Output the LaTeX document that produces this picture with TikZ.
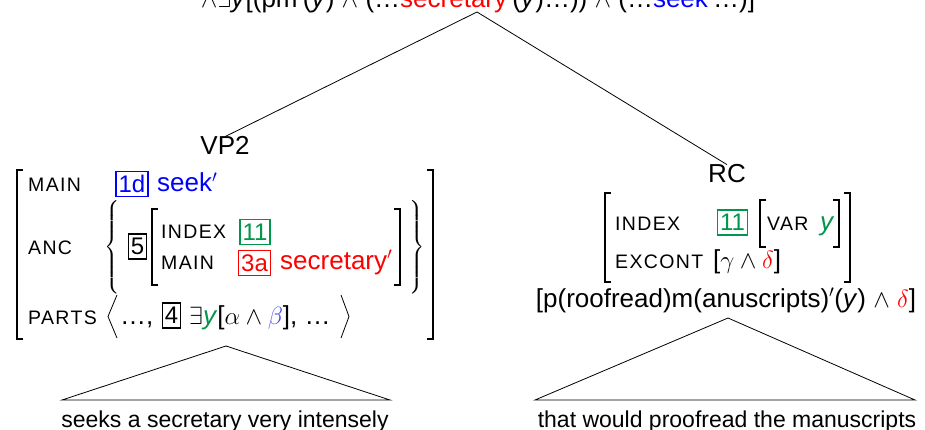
\documentclass[tikz,border=0pt]{standalone}
\usepackage{exscale}
\usepackage{fontspec}
\setmainfont{Liberation Sans}

\definecolor{idxgreen}{RGB}{0,150,75}
\definecolor{lightblue}{RGB}{70,70,245}

\tikzset{
  txt/.style={inner sep=0pt, font=\fontsize{26}{28}\selectfont},
  yield/.style={inner sep=0pt, anchor=base, font=\fontsize{23}{25}\selectfont},
  feat/.style={inner sep=0pt, anchor=base west,
    font=\fontsize{19.5}{20}\selectfont\addfontfeature{LetterSpace=7}},
  tag/.style={draw, line width=1.6pt, inner xsep=2.5pt, inner ysep=0pt,
    minimum height=25pt, font=\fontsize{24}{24}\selectfont},
  brk/.style={line width=1.1pt},
  delim/.style={inner sep=0pt, font=\fontsize{16}{16}\selectfont},
}

% tall curly brace of a given height
\newcommand{\lbr}[1]{$\delimitershortfall=0pt\left\{\vcenter{\hbox{\rule{0pt}{#1}}}\right.$}
\newcommand{\rbr}[1]{$\delimitershortfall=0pt\left.\vcenter{\hbox{\rule{0pt}{#1}}}\right\}$}

\begin{document}
\begin{tikzpicture}[x=1pt,y=-1pt]
\useasboundingbox (0,0) rectangle (925,430);

\node[txt, anchor=base] (sem) at (478,8)
  {$\wedge\exists$\textit{y}[(pm$'$(\textit{y}) $\wedge$ (\ldots\textcolor{red}{secretary}$'$(\textit{y})\ldots)) $\wedge$ (\ldots\textcolor{blue}{seek}$'$\ldots)]};

\coordinate (top) at (477,12);
\node[txt, anchor=base] (vp) at (225,155) {VP2};
\node[txt, anchor=base] (rc) at (727,183) {RC};
\draw[line width=0.8pt] (top) -- (vp.north);
\draw[line width=0.8pt] (top) -- (rc.north);

% VP2 feature structure
\draw[brk] (23,170) -- (17,170) -- (17,339) -- (23,339);
\draw[brk] (427,170) -- (433,170) -- (433,339) -- (427,339);

\node[feat] (main) at (28,192) {MAIN};
\node[tag, blue] (t1d) at (132,184) {1d};
\node[txt, anchor=base west, blue] (seek) at (157,192) {seek$'$};

\node[feat] (anc) at (28,254) {ANC};
\node[delim] (lbrace) at (113,247) {\lbr{91pt}};
\node[tag] (t5) at (137.5,246.5) {5};
\draw[brk] (158,209) -- (152,209) -- (152,285) -- (158,285);
\draw[brk] (394,209) -- (400,209) -- (400,285) -- (394,285);
\node[feat] (index) at (161,238) {INDEX};
\node[tag, idxgreen] (t11) at (255,232) {11};
\node[feat] (main2) at (161,269) {MAIN};
\node[tag, red] (t3a) at (254.5,263) {3a};
\node[txt, anchor=base west, red] (sec) at (280,269) {secretary$'$};
\node[delim] (rbrace) at (417,247) {\rbr{91pt}};

\node[feat] (parts) at (28,324) {PARTS};
\draw[line width=0.8pt] (117,295) -- (108,316.5) -- (117,338);
\node[txt, anchor=base west] (dl) at (120,324) {\ldots,};
\node[tag] (t4) at (171.5,315.5) {4};
\node[txt, anchor=base west] (ex) at (189,324)
  {$\exists$\textcolor{idxgreen}{\textit{y}}[$\alpha\wedge\textcolor{lightblue}{\beta}$], \ldots};
\draw[line width=0.8pt] (341,295) -- (349,316.5) -- (341,338);

% RC feature structure
\draw[brk] (611,193) -- (605,193) -- (605,282) -- (611,282);
\draw[brk] (844,193) -- (850,193) -- (850,282) -- (844,282);
\node[feat] (index2) at (615,230) {INDEX};
\node[tag, idxgreen] (t11b) at (732.5,222.5) {11};
\draw[brk] (766,200) -- (760,200) -- (760,247) -- (766,247);
\node[feat] (var) at (767,230) {VAR};
\node[txt, anchor=base west, idxgreen] (vy) at (820,230) {\textit{y}};
\draw[brk] (833,200) -- (839,200) -- (839,247) -- (833,247);
\node[feat] (excont) at (615,268) {EXCONT};
\node[txt, anchor=base west] (gd) at (713,268) {[$\gamma\wedge\textcolor{red}{\delta}$]};

\node[txt, anchor=base] (rcsem) at (726,307)
  {[p(roofread)m(anuscripts)$'$(\textit{y}) $\wedge$ \textcolor{red}{$\delta$}]};

% triangles
\coordinate (l0) at (226,346);
\coordinate (l1) at (62,400);
\coordinate (l2) at (390,400);
\draw[line width=0.8pt] (l0) -- (l1) -- (l2) -- cycle;
\node[yield] (ly) at (225,427) {seeks a secretary very intensely};

\coordinate (r0) at (728,318);
\coordinate (r1) at (535,400);
\coordinate (r2) at (915,400);
\draw[line width=0.8pt] (r0) -- (r1) -- (r2) -- cycle;
\node[yield] (ry) at (727,427) {that would proofread the manuscripts};
\end{tikzpicture}
\end{document}
